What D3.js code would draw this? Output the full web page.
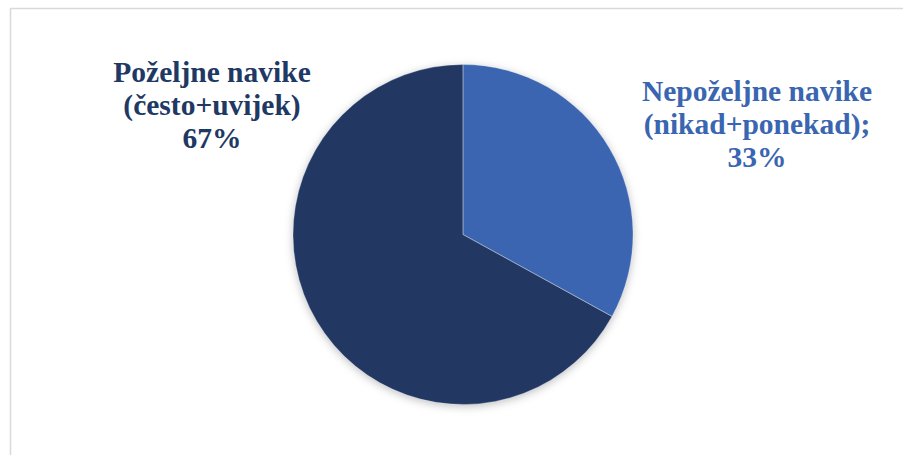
<!DOCTYPE html>
<html><head><meta charset="utf-8">
<script src="https://cdn.jsdelivr.net/npm/d3@7"></script>
<style>html,body{margin:0;padding:0;background:#fff;}svg{display:block;}</style>
</head><body>
<svg id="chart" width="903" height="455"></svg>
<script>
const categories = ["Nepoželjne navike (nikad+ponekad)", "Poželjne navike (često+uvijek)"];
const values = [33, 67];
const labelLines = [["Nepoželjne navike", "(nikad+ponekad);", "33%"], ["Poželjne navike", "(često+uvijek)", "67%"]];
const colors = ["#3A65B0", "#203864"];

const svg = d3.select("#chart");
const W = 903, H = 455;
// frame
svg.append("rect").attr("x", 10.5).attr("y", 8.5).attr("width", W).attr("height", H)
  .attr("fill", "#fff").attr("stroke", "#d9d9d9").attr("stroke-width", 1.5);

const defs = svg.append("defs");
const f = defs.append("filter").attr("id", "sh").attr("x", "-20%").attr("y", "-20%").attr("width", "140%").attr("height", "140%");
f.append("feDropShadow").attr("dx", 0).attr("dy", 2).attr("stdDeviation", 4).attr("flood-color", "#000").attr("flood-opacity", 0.25);

const cx = 463, cy = 234.5, r = 170;
const pie = d3.pie().sort(null).value(d => d)(values);
const arc = d3.arc().innerRadius(0).outerRadius(r);
const g = svg.append("g").attr("transform", `translate(${cx},${cy})`);
g.append("g").attr("filter", "url(#sh)").selectAll("path").data(pie).join("path")
  .attr("d", arc).attr("fill", (d, i) => colors[i]);
g.selectAll("path.sep").data(pie).join("path").attr("class", "sep")
  .attr("d", arc).attr("fill", "none").attr("stroke", "#ffffff").attr("stroke-opacity", 0.35).attr("stroke-width", 0.8);

const labelPos = [{x: 757, y: 100.5}, {x: 212, y: 81.5}];
const lh = 33;
labelLines.forEach((lines, i) => {
  const t = svg.append("text").attr("x", labelPos[i].x).attr("y", labelPos[i].y)
    .attr("text-anchor", "middle").attr("fill", colors[i])
    .style("font-family", "'Liberation Serif','Times New Roman',serif")
    .style("font-weight", "bold").style("font-size", "29.5px");
  lines.forEach((s, k) => t.append("tspan").attr("x", labelPos[i].x).attr("y", labelPos[i].y + k * lh).text(s));
});
</script>
</body></html>
